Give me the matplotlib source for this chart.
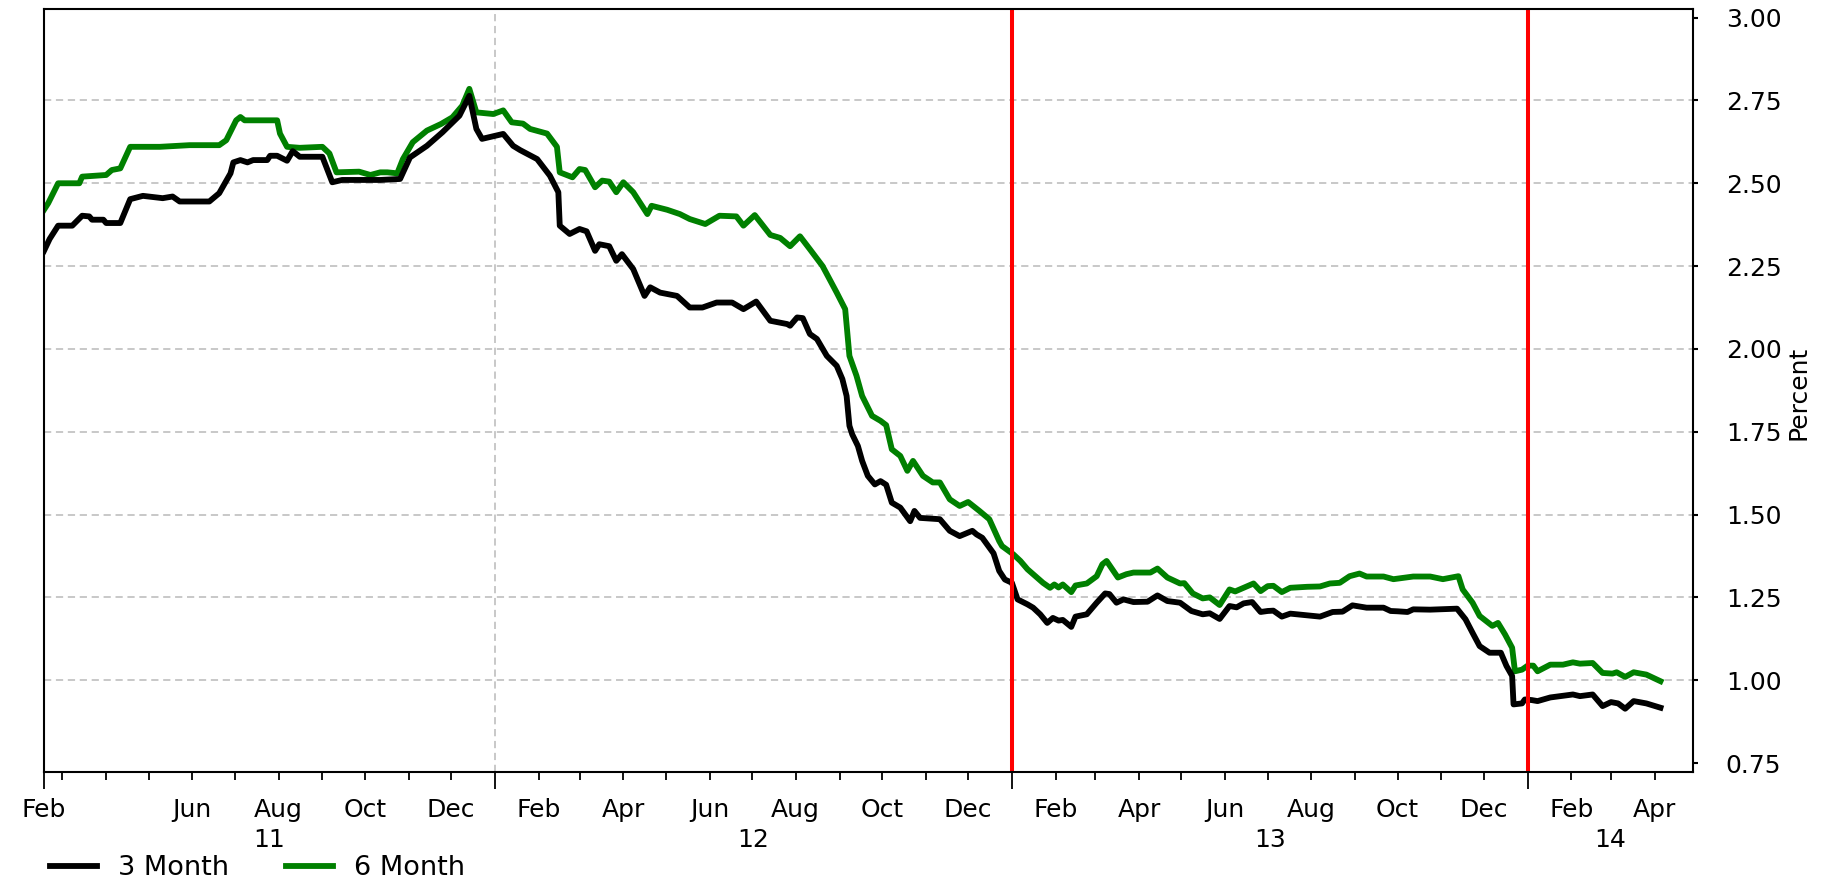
import numpy as np
import pandas as pd
import matplotlib
matplotlib.use("Agg")
import matplotlib.pyplot as plt
import matplotlib.dates as mdates
from matplotlib.ticker import FixedLocator, FixedFormatter
from matplotlib.lines import Line2D

plt.rcParams['font.family'] = ['DejaVu Sans']

# ---------------- data ----------------
base_date = np.datetime64('2012-01-01')

days_3m = [-319, -315, -309, -299, -292, -287, -285, -277, -275, -265,
           -258, -249, -235, -228, -223, -202, -195, -187, -185, -180,
           -175, -171, -161, -159, -154, -147, -143, -138, -122, -115,
           -108, -81, -67, -60, -48, -37, -25, -18, -13, -9,
           6, 13, 18, 30, 39, 45, 46, 53, 60, 65,
           71, 74, 81, 86, 90, 98, 106, 110, 117, 129,
           138, 147, 157, 168, 176, 185, 195, 207, 209, 214,
           218, 223, 228, 235, 242, 246, 249, 251, 253, 257,
           260, 264, 269, 273, 277, 281, 287, 294, 297, 301,
           308, 315, 322, 329, 338, 341, 345, 353, 357, 361,
           366, 370, 377, 381, 386, 391, 395, 399, 402, 408,
           411, 419, 426, 432, 435, 440, 445, 452, 462, 469,
           476, 485, 493, 501, 506, 513, 520, 525, 530, 536,
           542, 547, 551, 557, 563, 575, 584, 593, 600, 607,
           617, 629, 634, 639, 646, 650, 662, 681, 687, 692,
           697, 704, 712, 716, 720, 721, 727, 729, 734, 738,
           747, 756, 763, 768, 777, 784, 790, 795, 800, 806,
           815, 825]
rate_3m = [2.296, 2.332, 2.372, 2.372, 2.402, 2.40, 2.39, 2.39, 2.38, 2.38,
           2.452, 2.462, 2.455, 2.46, 2.445, 2.445, 2.47, 2.53, 2.563, 2.57,
           2.563, 2.57, 2.57, 2.583, 2.583, 2.568, 2.597, 2.58, 2.58, 2.503,
           2.51, 2.51, 2.513, 2.578, 2.613, 2.654, 2.704, 2.764, 2.664, 2.634,
           2.649, 2.613, 2.60, 2.573, 2.523, 2.473, 2.372, 2.347, 2.362, 2.355,
           2.296, 2.316, 2.31, 2.266, 2.286, 2.241, 2.16, 2.186, 2.17, 2.16,
           2.125, 2.125, 2.14, 2.14, 2.12, 2.143, 2.085, 2.075, 2.07, 2.095,
           2.093, 2.045, 2.03, 1.979, 1.949, 1.909, 1.858, 1.768, 1.742, 1.707,
           1.662, 1.617, 1.591, 1.601, 1.59, 1.536, 1.521, 1.48, 1.511, 1.49,
           1.488, 1.486, 1.451, 1.435, 1.451, 1.44, 1.43, 1.383, 1.33, 1.304,
           1.294, 1.244, 1.229, 1.219, 1.199, 1.173, 1.188, 1.18, 1.182, 1.161,
           1.192, 1.199, 1.234, 1.262, 1.26, 1.234, 1.244, 1.236, 1.237, 1.256,
           1.239, 1.234, 1.209, 1.199, 1.202, 1.185, 1.224, 1.22, 1.232, 1.236,
           1.206, 1.209, 1.21, 1.192, 1.201, 1.196, 1.192, 1.206, 1.207, 1.226,
           1.219, 1.219, 1.209, 1.208, 1.206, 1.214, 1.213, 1.216, 1.184, 1.143,
           1.103, 1.083, 1.083, 1.043, 1.013, 0.927, 0.93, 0.942, 0.94, 0.937,
           0.948, 0.953, 0.957, 0.952, 0.957, 0.922, 0.934, 0.93, 0.914, 0.937,
           0.93, 0.917]

days_6m = [-319, -316, -309, -294, -292, -275, -271, -265, -258, -237,
           -216, -195, -190, -183, -180, -177, -154, -152, -147, -138,
           -122, -117, -112, -96, -88, -81, -76, -69, -65, -58,
           -48, -38, -30, -23, -18, -13, -1, 6, 12, 20,
           25, 37, 44, 46, 55, 60, 64, 71, 76, 81,
           86, 91, 98, 108, 111, 122, 131, 138, 149, 159,
           171, 176, 184, 195, 202, 209, 216, 223, 232, 242,
           248, 251, 256, 260, 267, 273, 277, 281, 287, 292,
           296, 303, 310, 315, 322, 329, 335, 343, 350, 357,
           359, 367, 372, 377, 381, 388, 393, 396, 399, 402,
           408, 411, 419, 426, 430, 433, 437, 441, 447, 452,
           464, 469, 476, 485, 488, 494, 501, 506, 513, 520,
           524, 530, 537, 542, 547, 551, 557, 563, 575, 584,
           591, 598, 605, 612, 617, 629, 636, 650, 662, 671,
           682, 685, 692, 697, 706, 710, 715, 720, 722, 727,
           731, 735, 738, 747, 756, 763, 768, 777, 784, 791,
           794, 800, 806, 815, 825]
rate_6m = [2.42, 2.44, 2.50, 2.50, 2.52, 2.525, 2.54, 2.545, 2.61, 2.61,
           2.615, 2.615, 2.63, 2.69, 2.70, 2.69, 2.69, 2.65, 2.61, 2.607,
           2.61, 2.59, 2.533, 2.535, 2.525, 2.533, 2.533, 2.53, 2.573, 2.624,
           2.659, 2.679, 2.699, 2.734, 2.785, 2.714, 2.709, 2.72, 2.684, 2.68,
           2.664, 2.65, 2.61, 2.533, 2.518, 2.543, 2.54, 2.488, 2.508, 2.505,
           2.473, 2.503, 2.473, 2.407, 2.432, 2.42, 2.407, 2.392, 2.377, 2.402,
           2.40, 2.372, 2.404, 2.344, 2.335, 2.31, 2.34, 2.301, 2.25, 2.17,
           2.12, 1.979, 1.919, 1.858, 1.798, 1.783, 1.77, 1.697, 1.677, 1.632,
           1.662, 1.617, 1.597, 1.597, 1.546, 1.526, 1.538, 1.511, 1.486, 1.42,
           1.405, 1.38, 1.36, 1.335, 1.32, 1.294, 1.279, 1.289, 1.28, 1.289,
           1.266, 1.286, 1.292, 1.314, 1.35, 1.36, 1.335, 1.31, 1.32, 1.325,
           1.325, 1.337, 1.31, 1.292, 1.293, 1.262, 1.247, 1.25, 1.227, 1.274,
           1.268, 1.279, 1.292, 1.269, 1.284, 1.285, 1.266, 1.279, 1.282, 1.283,
           1.292, 1.294, 1.314, 1.322, 1.313, 1.313, 1.305, 1.313, 1.313, 1.305,
           1.314, 1.274, 1.234, 1.194, 1.164, 1.173, 1.138, 1.098, 1.027, 1.032,
           1.044, 1.044, 1.027, 1.047, 1.047, 1.054, 1.05, 1.052, 1.022, 1.02,
           1.024, 1.01, 1.024, 1.017, 0.997]

series_labels = ['3 Month', '6 Month']
series_colors = ['#000000', '#008000']
y_ticks = [0.75, 1.00, 1.25, 1.50, 1.75, 2.00, 2.25, 2.50, 2.75, 3.00]
event_dates = ['2013-01-01', '2014-01-01']
year_starts = ['2012-01-01', '2013-01-01', '2014-01-01']
year_labels = ['11', '12', '13', '14']
x_start, x_end = '2011-02-16', '2014-04-28'
first_label = 'Feb'
skip_labels = ['2011-04-01']

# ---------------- figure ----------------
FS = 18
LFS = 19.5
LW = 4.2
fig = plt.figure(figsize=(18.30, 8.82), dpi=100)
ax = fig.add_axes([44 / 1830, 1 - 772 / 882, (1693 - 44) / 1830, (772 - 9) / 882])

d3 = base_date + np.array(days_3m).astype('timedelta64[D]')
d6 = base_date + np.array(days_6m).astype('timedelta64[D]')

xs = mdates.date2num(pd.Timestamp(x_start))
xe = mdates.date2num(pd.Timestamp(x_end))
ax.set_xlim(xs, xe)
ax.set_ylim(0.723, 3.026)

grid_kw = dict(color='#c4c4c4', lw=1.3, ls=(0, (4.0, 2.6)), zorder=1)
for v in y_ticks[1:-1]:
    ax.axhline(v, **grid_kw)
for ys in year_starts:
    ax.axvline(mdates.date2num(pd.Timestamp(ys)), **grid_kw)

ax.plot(d6, rate_6m, color=series_colors[1], lw=LW, zorder=3,
        solid_joinstyle='round', label=series_labels[1])
ax.plot(d3, rate_3m, color=series_colors[0], lw=LW, zorder=4,
        solid_joinstyle='round', label=series_labels[0])

for ed in event_dates:
    ax.axvline(mdates.date2num(pd.Timestamp(ed)), color='#ff0000', lw=2.9, zorder=5)

# spines
for s in ax.spines.values():
    s.set_linewidth(1.5)
    s.set_color('black')
    s.set_zorder(6)

# y axis on right
ax.yaxis.tick_right()
ax.set_yticks(y_ticks)
ax.set_yticklabels([f'{v:.2f}' for v in y_ticks])
ax.tick_params(axis='y', which='both', direction='out', length=3.6, width=1.5,
               pad=20, labelsize=FS, left=False, right=True)
ax.yaxis.set_label_position('right')
ax.set_ylabel('Percent', fontsize=FS)
ax.yaxis.label.set(rotation=90, va='center', ha='center', rotation_mode='default')
ax.yaxis.set_label_coords((1799 - 44) / 1649, 0.497)

# x axis: month ticks (minor, excluding January) and year-boundary ticks (major)
months = [m for m in pd.date_range('2011-03-01', '2014-04-01', freq='MS') if m.month != 1]
month_pos = mdates.date2num(months)
month_lab = []
for m in months:
    if m.month % 2 == 0 and m.strftime('%Y-%m-%d') not in skip_labels:
        month_lab.append(m.strftime('%b'))
    else:
        month_lab.append('')
ax.xaxis.remove_overlapping_locs = False
ax.xaxis.set_minor_locator(FixedLocator(month_pos))
ax.xaxis.set_minor_formatter(FixedFormatter(month_lab))

major_pos = [xs] + [mdates.date2num(pd.Timestamp(y)) for y in year_starts]
major_lab = [first_label] + [''] * len(year_starts)
ax.xaxis.set_major_locator(FixedLocator(major_pos))
ax.xaxis.set_major_formatter(FixedFormatter(major_lab))
ax.tick_params(axis='x', which='minor', direction='out', length=5.8, width=1.3,
               pad=12.6, labelsize=FS)
ax.tick_params(axis='x', which='major', direction='out', length=12.2, width=1.3,
               pad=6.2, labelsize=FS)

# year labels centered in visible year spans
bounds = [xs] + [mdates.date2num(pd.Timestamp(y)) for y in year_starts] + [xe]
for i, lab in enumerate(year_labels):
    cx = 0.5 * (bounds[i] + bounds[i + 1])
    ax.annotate(lab, xy=(cx, 0), xycoords=ax.get_xaxis_transform(),
                xytext=(0, -54), textcoords='offset points',
                ha='center', va='baseline', fontsize=FS)

# legend
handles = [Line2D([], [], color=series_colors[0], lw=LW),
           Line2D([], [], color=series_colors[1], lw=LW)]
fig.legend(handles, series_labels, loc='center left',
           bbox_to_anchor=(50 / 1830, 1 - 868 / 882), ncol=2, frameon=False,
           fontsize=LFS, handlelength=1.74, handletextpad=0.77, columnspacing=2.1,
           borderpad=0, borderaxespad=0)

fig.savefig('out.png', dpi=100)
